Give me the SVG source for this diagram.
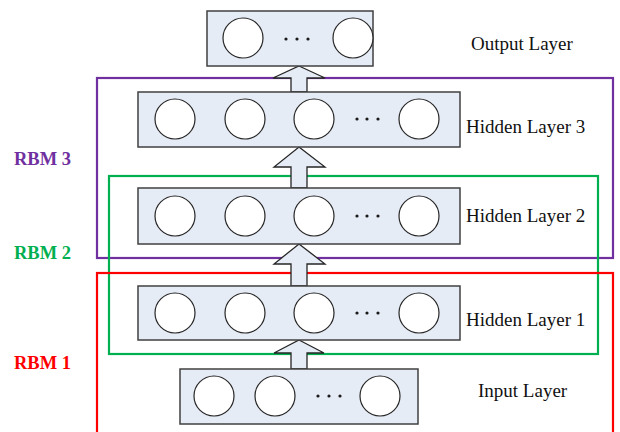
<svg xmlns="http://www.w3.org/2000/svg" width="620" height="432" viewBox="0 0 620 432">
  <style>
    .layer { fill: #E6ECF6; stroke: #404040; stroke-width: 1.5; }
    .unit { fill: #FFFFFF; stroke: #262626; stroke-width: 1.2; }
    .dot { fill: #1a1a1a; }
    .arrow { fill: #E6ECF6; stroke: #262626; stroke-width: 1.3; stroke-linejoin: miter; }
    .frame { fill: none; stroke-width: 2.2; }
    .name { font-family: "Liberation Serif", "Times New Roman", serif; font-size: 19px; fill: #111111; }
    .rbm { font-family: "Liberation Serif", "Times New Roman", serif; font-size: 18.5px; font-weight: bold; }
  </style>

  <!-- RBM frames -->
  <g id="rbm-frames">
    <rect class="frame" x="97" y="78" width="516" height="180" stroke="#7030A0"/>
    <rect class="frame" x="109" y="176" width="489" height="178" stroke="#00B050"/>
    <rect class="frame" x="97" y="273" width="516" height="170" stroke="#FF0000"/>
    <text class="rbm" x="14" y="165" fill="#7030A0">RBM 3</text>
    <text class="rbm" x="14" y="259" fill="#00B050">RBM 2</text>
    <text class="rbm" x="14" y="369" fill="#FF0000">RBM 1</text>
  </g>

  <!-- connectors: upward block arrows -->
  <g id="connectors">
    <polygon class="arrow" points="299,340 324,353 307,353 307,369 291,369 291,353 274,353"/>
    <polygon class="arrow" points="299,244 325,264 307,264 307,286 291,286 291,264 274,264"/>
    <polygon class="arrow" points="299,147 325,167 307,167 307,188 291,188 291,167 274,167"/>
    <polygon class="arrow" points="299,66 325,78 307,78 307,92 291,92 291,78 273,78"/>
  </g>

  <g id="output-layer">
    <rect class="layer" x="207" y="11" width="166" height="55"/>
    <circle class="unit" cx="243" cy="38" r="20"/>
    <circle class="unit" cx="353" cy="38" r="20"/>
    <circle class="dot" cx="286" cy="39" r="1.6"/>
    <circle class="dot" cx="297" cy="39" r="1.6"/>
    <circle class="dot" cx="308" cy="39" r="1.6"/>
    <text class="name" x="471" y="50">Output Layer</text>
  </g>

  <g id="hidden-layer-3">
    <rect class="layer" x="138" y="92" width="322" height="55"/>
    <circle class="unit" cx="175" cy="119" r="20"/>
    <circle class="unit" cx="245" cy="119" r="20"/>
    <circle class="unit" cx="314" cy="119" r="20"/>
    <circle class="unit" cx="419" cy="119" r="20"/>
    <circle class="dot" cx="357" cy="119" r="1.6"/>
    <circle class="dot" cx="367" cy="119" r="1.6"/>
    <circle class="dot" cx="378" cy="119" r="1.6"/>
    <text class="name" x="466" y="133">Hidden Layer 3</text>
  </g>

  <g id="hidden-layer-2">
    <rect class="layer" x="138" y="188" width="322" height="56"/>
    <circle class="unit" cx="175" cy="216" r="20"/>
    <circle class="unit" cx="245" cy="216" r="20"/>
    <circle class="unit" cx="314" cy="216" r="20"/>
    <circle class="unit" cx="419" cy="216" r="20"/>
    <circle class="dot" cx="357" cy="216" r="1.6"/>
    <circle class="dot" cx="367" cy="216" r="1.6"/>
    <circle class="dot" cx="378" cy="216" r="1.6"/>
    <text class="name" x="466" y="222">Hidden Layer 2</text>
  </g>

  <g id="hidden-layer-1">
    <rect class="layer" x="138" y="286" width="322" height="54"/>
    <circle class="unit" cx="175" cy="313" r="20"/>
    <circle class="unit" cx="245" cy="313" r="20"/>
    <circle class="unit" cx="314" cy="313" r="20"/>
    <circle class="unit" cx="419" cy="313" r="20"/>
    <circle class="dot" cx="357" cy="313" r="1.6"/>
    <circle class="dot" cx="367" cy="313" r="1.6"/>
    <circle class="dot" cx="378" cy="313" r="1.6"/>
    <text class="name" x="466" y="326">Hidden Layer 1</text>
  </g>

  <g id="input-layer">
    <rect class="layer" x="180" y="369" width="238" height="55"/>
    <circle class="unit" cx="214" cy="396" r="20"/>
    <circle class="unit" cx="275" cy="396" r="20"/>
    <circle class="unit" cx="380" cy="396" r="20"/>
    <circle class="dot" cx="318" cy="396" r="1.6"/>
    <circle class="dot" cx="329" cy="396" r="1.6"/>
    <circle class="dot" cx="340" cy="396" r="1.6"/>
    <text class="name" x="478" y="397">Input Layer</text>
  </g>
</svg>
